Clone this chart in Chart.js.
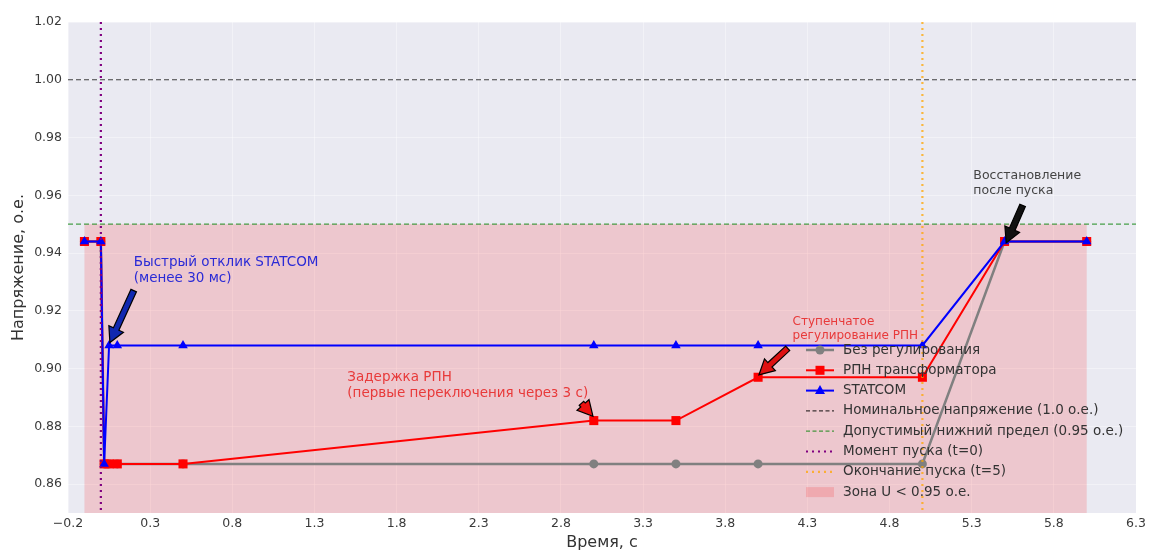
<!DOCTYPE html>
<html>
<head>
<meta charset="utf-8">
<script src="https://cdn.jsdelivr.net/npm/chart.js@4.4.0/dist/chart.umd.min.js"></script>
<style>
  html, body { margin: 0; padding: 0; background: #fff; }
</style>
</head>
<body>
<canvas id="chart" width="1149" height="552"></canvas>
<script>
const TIME = [-0.1, 0, 0.02, 0.05, 0.1, 0.5, 3, 3.5, 4, 5, 5.5, 6];
const U_NONE = [0.944, 0.944, 0.867, 0.867, 0.867, 0.867, 0.867, 0.867, 0.867, 0.867, 0.944, 0.944];
const U_OLTC = [0.944, 0.944, 0.867, 0.867, 0.867, 0.867, 0.882, 0.882, 0.897, 0.897, 0.944, 0.944];
const U_STATCOM = [0.944, 0.944, 0.867, 0.908, 0.908, 0.908, 0.908, 0.908, 0.908, 0.908, 0.944, 0.944];

const X_TICKS = [-0.2, 0.3, 0.8, 1.3, 1.8, 2.3, 2.8, 3.3, 3.8, 4.3, 4.8, 5.3, 5.8, 6.3];
const Y_TICKS = [0.86, 0.88, 0.90, 0.92, 0.94, 0.96, 0.98, 1.00, 1.02];

const U_NOMINAL = 1.0;
const U_LIMIT = 0.95;
const T_START = 0;
const T_END = 5;

const SERIES_LABELS = ["Без регулирования", "РПН трансформатора", "STATCOM"];
const REF_LABELS = [
  "Номинальное напряжение (1.0 о.е.)",
  "Допустимый нижний предел (0.95 о.е.)",
  "Момент пуска (t=0)",
  "Окончание пуска (t=5)",
  "Зона U < 0.95 о.е.",
];

// annotations: text anchor + arrow (tail -> tip) in data units
const NOTES = [
  { lines: ["Быстрый отклик STATCOM", "(менее 30 мс)"], x: 0.2, y: 0.9367, size: 13.5,
    color: "#2a2ad6", from: [0.2, 0.927], to: [0.055, 0.909], fill: "#1028b0" },
  { lines: ["Задержка РПН", "(первые переключения через 3 с)"], x: 1.5, y: 0.8968, size: 13.5,
    color: "#e83a3a", from: [2.925, 0.888], to: [2.995, 0.8835], fill: "#ee1111" },
  { lines: ["Ступенчатое", "регулирование РПН"], x: 4.21, y: 0.9163, size: 12,
    color: "#e83a3a", from: [4.18, 0.907], to: [4.005, 0.8978], fill: "#dd1111" },
  { lines: ["Восстановление", "после пуска"], x: 5.31, y: 0.9666, size: 12.5,
    color: "#444444", from: [5.61, 0.9565], to: [5.51, 0.9435], fill: "#111111" },
];

const toXY = (ys) => TIME.map((t, i) => ({ x: t, y: ys[i] }));

const drawArrow = (ctx, x0, y0, x1, y1, fill) => {
  const dx = x1 - x0, dy = y1 - y0;
  const len = Math.hypot(dx, dy);
  const ux = dx / len, uy = dy / len, px = -uy, py = ux;
  const headL = Math.min(15, len), headW = 8, shaftW = 3;
  const bx = x1 - ux * headL, by = y1 - uy * headL;
  ctx.beginPath();
  ctx.moveTo(x0 + px * shaftW, y0 + py * shaftW);
  ctx.lineTo(bx + px * shaftW, by + py * shaftW);
  ctx.lineTo(bx + px * headW, by + py * headW);
  ctx.lineTo(x1, y1);
  ctx.lineTo(bx - px * headW, by - py * headW);
  ctx.lineTo(bx - px * shaftW, by - py * shaftW);
  ctx.lineTo(x0 - px * shaftW, y0 - py * shaftW);
  ctx.closePath();
  ctx.fillStyle = fill;
  ctx.fill();
  ctx.strokeStyle = "#000";
  ctx.lineWidth = 1.2;
  ctx.stroke();
};

const decorPlugin = {
  id: "decor",
  beforeDraw(chart) {
    const { ctx, chartArea: a } = chart;
    ctx.save();
    ctx.fillStyle = "#eaeaf2";
    ctx.fillRect(a.left, a.top, a.right - a.left, a.bottom - a.top);
    ctx.restore();
  },
  beforeDatasetsDraw(chart) {
    const { ctx, chartArea: a, scales: { x, y } } = chart;
    ctx.save();
    // zone under the permitted limit
    const xl = x.getPixelForValue(TIME[0]);
    const xr = x.getPixelForValue(TIME[TIME.length - 1]);
    const yt = y.getPixelForValue(U_LIMIT);
    ctx.fillStyle = "rgba(255,0,0,0.15)";
    ctx.fillRect(xl, yt, xr - xl, a.bottom - yt);
    ctx.restore();
  },
  afterDatasetsDraw(chart) {
    const { ctx, chartArea: a, scales: { x, y } } = chart;
    ctx.save();
    ctx.beginPath();
    ctx.rect(a.left, a.top, a.right - a.left, a.bottom - a.top);
    ctx.clip();

    const hline = (v, color, dash, w) => {
      const py = y.getPixelForValue(v);
      ctx.strokeStyle = color;
      ctx.setLineDash(dash);
      ctx.lineWidth = w;
      ctx.beginPath();
      ctx.moveTo(a.left, py);
      ctx.lineTo(a.right, py);
      ctx.stroke();
    };
    const vline = (v, color, dash, w) => {
      const px = x.getPixelForValue(v);
      ctx.strokeStyle = color;
      ctx.setLineDash(dash);
      ctx.lineWidth = w;
      ctx.beginPath();
      ctx.moveTo(px, a.top);
      ctx.lineTo(px, a.bottom);
      ctx.stroke();
    };
    hline(U_NOMINAL, "rgba(0,0,0,0.75)", [5, 3], 1.2);
    hline(U_LIMIT, "rgba(0,128,0,0.7)", [5, 3], 1.2);
    vline(T_START, "#800080", [2, 4], 2.2);
    vline(T_END, "rgba(255,165,0,0.75)", [2, 4], 2.2);
    ctx.setLineDash([]);
    ctx.restore();

    ctx.save();
    NOTES.forEach((n) => {
      ctx.font = `${n.size}px "DejaVu Sans"`;
      ctx.fillStyle = n.color;
      ctx.textAlign = "left";
      ctx.textBaseline = "middle";
      const tx = x.getPixelForValue(n.x);
      const ty = y.getPixelForValue(n.y);
      n.lines.forEach((line, i) => ctx.fillText(line, tx, ty + i * n.size * 1.18));
      drawArrow(ctx,
        x.getPixelForValue(n.from[0]), y.getPixelForValue(n.from[1]),
        x.getPixelForValue(n.to[0]), y.getPixelForValue(n.to[1]), n.fill);
    });
    ctx.restore();
  },
  afterDraw(chart) {
    // legend inside the plot, lower right
    const { ctx } = chart;
    const lx = 806, lw = 28, tx = 843, y0 = 350, step = 20.3;
    ctx.save();
    ctx.font = '13.5px "DejaVu Sans"';
    ctx.textBaseline = "middle";
    ctx.textAlign = "left";
    const labels = SERIES_LABELS.concat(REF_LABELS);
    const lineStyles = [
      { c: "#808080", w: 2.5, d: [] },
      { c: "red", w: 2, d: [] },
      { c: "blue", w: 2, d: [] },
      { c: "rgba(0,0,0,0.75)", w: 1.3, d: [4, 2.5] },
      { c: "rgba(0,128,0,0.7)", w: 1.3, d: [4, 2.5] },
      { c: "#800080", w: 2.2, d: [2, 4] },
      { c: "rgba(255,165,0,0.75)", w: 2.2, d: [2, 4] },
    ];
    labels.forEach((lab, i) => {
      const yy = y0 + i * step;
      if (i < lineStyles.length) {
        const s = lineStyles[i];
        ctx.strokeStyle = s.c;
        ctx.lineWidth = s.w;
        ctx.setLineDash(s.d);
        ctx.beginPath();
        ctx.moveTo(lx, yy);
        ctx.lineTo(lx + lw, yy);
        ctx.stroke();
        ctx.setLineDash([]);
        const mx = lx + lw / 2;
        if (i === 0) {
          ctx.fillStyle = "#808080";
          ctx.beginPath();
          ctx.arc(mx, yy, 4.5, 0, Math.PI * 2);
          ctx.fill();
        } else if (i === 1) {
          ctx.fillStyle = "red";
          ctx.fillRect(mx - 4.5, yy - 4.5, 9, 9);
        } else if (i === 2) {
          ctx.fillStyle = "blue";
          ctx.beginPath();
          ctx.moveTo(mx, yy - 5.5);
          ctx.lineTo(mx + 5, yy + 3.5);
          ctx.lineTo(mx - 5, yy + 3.5);
          ctx.closePath();
          ctx.fill();
        }
      } else {
        ctx.fillStyle = "rgba(255,0,0,0.15)";
        ctx.fillRect(lx, yy - 5, lw, 10);
      }
      ctx.fillStyle = "#333";
      ctx.fillText(lab, tx, yy);
    });
    ctx.restore();
  },
};

const tickFont = { family: "DejaVu Sans", size: 12.5 };
const fmt = (v) => (v < 0 ? "\u2212" + Math.abs(v).toFixed(1) : v.toFixed(1));

new Chart(document.getElementById("chart"), {
  type: "line",
  data: {
    datasets: [
      {
        label: SERIES_LABELS[0],
        data: toXY(U_NONE),
        borderColor: "#808080",
        backgroundColor: "#808080",
        borderWidth: 2.5,
        pointStyle: "circle",
        pointRadius: 4.5,
        pointBorderWidth: 0,
        order: 3,
      },
      {
        label: SERIES_LABELS[1],
        data: toXY(U_OLTC),
        borderColor: "red",
        backgroundColor: "red",
        borderWidth: 2,
        pointStyle: "rect",
        pointRadius: 6.4,
        pointBorderWidth: 0,
        order: 2,
      },
      {
        label: SERIES_LABELS[2],
        data: toXY(U_STATCOM),
        borderColor: "blue",
        backgroundColor: "blue",
        borderWidth: 2,
        pointStyle: "triangle",
        pointRadius: 5.5,
        pointBorderWidth: 0,
        order: 1,
      },
    ],
  },
  options: {
    responsive: false,
    animation: false,
    devicePixelRatio: 1,
    layout: { padding: { top: 22, right: 13, left: 0, bottom: 0 } },
    elements: { line: { tension: 0 } },
    plugins: { legend: { display: false }, tooltip: { enabled: false } },
    scales: {
      x: {
        type: "linear",
        min: -0.2,
        max: 6.3,
        afterBuildTicks: (s) => { s.ticks = X_TICKS.map((v) => ({ value: v })); },
        afterFit: (s) => { s.height = 39; },
        ticks: { font: tickFont, color: "#3a3a3a", padding: 3, callback: fmt, autoSkip: false, maxRotation: 0 },
        grid: { color: "rgba(255,255,255,0.4)", lineWidth: 1, drawTicks: false },
        border: { display: false },
        title: { display: true, text: "Время, с", font: { family: "DejaVu Sans", size: 16 }, color: "#333", padding: { top: 0, bottom: 0 } },
      },
      y: {
        min: 0.85,
        max: 1.02,
        afterBuildTicks: (s) => { s.ticks = Y_TICKS.map((v) => ({ value: v })); },
        afterFit: (s) => { s.width = 68; },
        ticks: { font: tickFont, color: "#3a3a3a", padding: 6, callback: (v) => v.toFixed(2) },
        grid: { color: "rgba(255,255,255,0.4)", lineWidth: 1, drawTicks: false },
        border: { display: false },
        title: { display: true, text: "Напряжение, о.е.", font: { family: "DejaVu Sans", size: 16 }, color: "#333", padding: { top: 9, bottom: 0 } },
      },
    },
  },
  plugins: [decorPlugin],
});
</script>
</body>
</html>
